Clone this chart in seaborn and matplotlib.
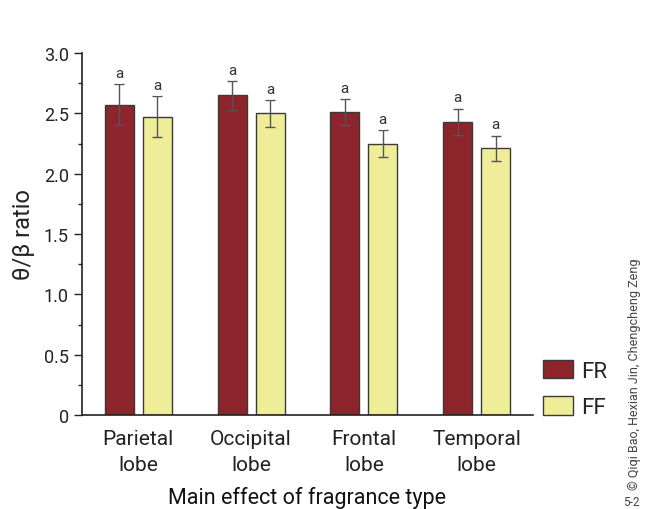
import pandas as pd
import matplotlib.pyplot as plt
import seaborn as sns
from matplotlib.ticker import MultipleLocator, FixedLocator
from matplotlib.patches import Patch

# values
regions = ['Parietal\nlobe', 'Occipital\nlobe', 'Frontal\nlobe', 'Temporal\nlobe']
fr_mean = [2.57, 2.65, 2.51, 2.43]
ff_mean = [2.47, 2.50, 2.25, 2.21]
fr_err = [0.17, 0.12, 0.11, 0.11]
ff_err = [0.17, 0.11, 0.11, 0.105]
sig_letters = ['a', 'a', 'a', 'a']

df = pd.DataFrame({
    'region': regions * 2,
    'type': ['FR'] * 4 + ['FF'] * 4,
    'ratio': fr_mean + ff_mean,
    'err': fr_err + ff_err,
})

sns.set_style('white')
plt.rcParams['font.family'] = ['Roboto', 'DejaVu Sans']

fig = plt.figure(figsize=(6.47, 5.1), dpi=100)
ax = fig.add_axes([0.1267, 0.1843, 0.6970, 0.7098])

colors = {'FR': '#8c242c', 'FF': '#f0ed98'}
sns.barplot(data=df, x='region', y='ratio', hue='type', palette=colors,
            saturation=1, width=0.673, gap=0.237, edgecolor='#3a3a3a',
            linewidth=1.0, errorbar=None, legend=False, ax=ax)

# error bars + letters on top of each bar
for cont, t in zip(ax.containers, ['FR', 'FF']):
    sub = df[df['type'] == t]
    for bar, (_, row), letter in zip(cont, sub.iterrows(), sig_letters):
        cx = bar.get_x() + bar.get_width() / 2
        ax.errorbar(cx, row['ratio'], yerr=row['err'], fmt='none',
                    ecolor='#555555', elinewidth=1.0, capsize=3.5, capthick=1.0)
        ax.text(cx, row['ratio'] + row['err'] + 0.035, letter, ha='center',
                va='bottom', fontsize=11, color='#333333',
                bbox=dict(boxstyle='circle,pad=0.25', fc='white', ec='none'))

ax.set_xlim(-0.5, 3.5)
ax.set_ylim(0, 3.0)
ax.yaxis.set_major_locator(FixedLocator([0, 0.5, 1.0, 1.5, 2.0, 2.5, 3.0]))
ax.set_yticklabels(['0', '0.5', '1.0', '1.5', '2.0', '2.5', '3.0'])
ax.yaxis.set_minor_locator(MultipleLocator(0.25))
ax.tick_params(axis='y', which='major', direction='out', length=6, width=1,
               labelsize=13, colors='#222222', left=True)
ax.tick_params(axis='y', which='minor', direction='out', length=3, width=1, left=True)
ax.tick_params(axis='x', length=0, labelsize=15, colors='#222222', pad=10)
for lab in ax.get_xticklabels():
    lab.set_linespacing(1.45)

sns.despine(ax=ax)
for s in ['left', 'bottom']:
    ax.spines[s].set_color('#222222')
    ax.spines[s].set_linewidth(1.2)

ax.set_ylabel('θ/β ratio', fontsize=17, color='#222222', labelpad=6)
ax.set_xlabel('Main effect of fragrance type', fontsize=15.5, color='#111111',
              labelpad=9)

handles = [Patch(facecolor=colors[k], edgecolor='#3a3a3a', label=k) for k in ['FR', 'FF']]
fig.legend(handles=handles, loc='upper left', bbox_to_anchor=(0.825, 0.31),
           frameon=False, fontsize=16, handlelength=1.35, handleheight=0.9,
           labelspacing=0.65, handletextpad=0.4, borderaxespad=0)

fig.text(0.98, 0.04, '© Qiqi Bao, Hexian Jin, Chengcheng Zeng', rotation=90,
         ha='center', va='bottom', fontsize=9, color='#444444')
fig.text(0.975, 0.002, '5-2', ha='center', va='bottom', fontsize=8.5, color='#444444')

fig.savefig('out.png', dpi=100, facecolor='white')
